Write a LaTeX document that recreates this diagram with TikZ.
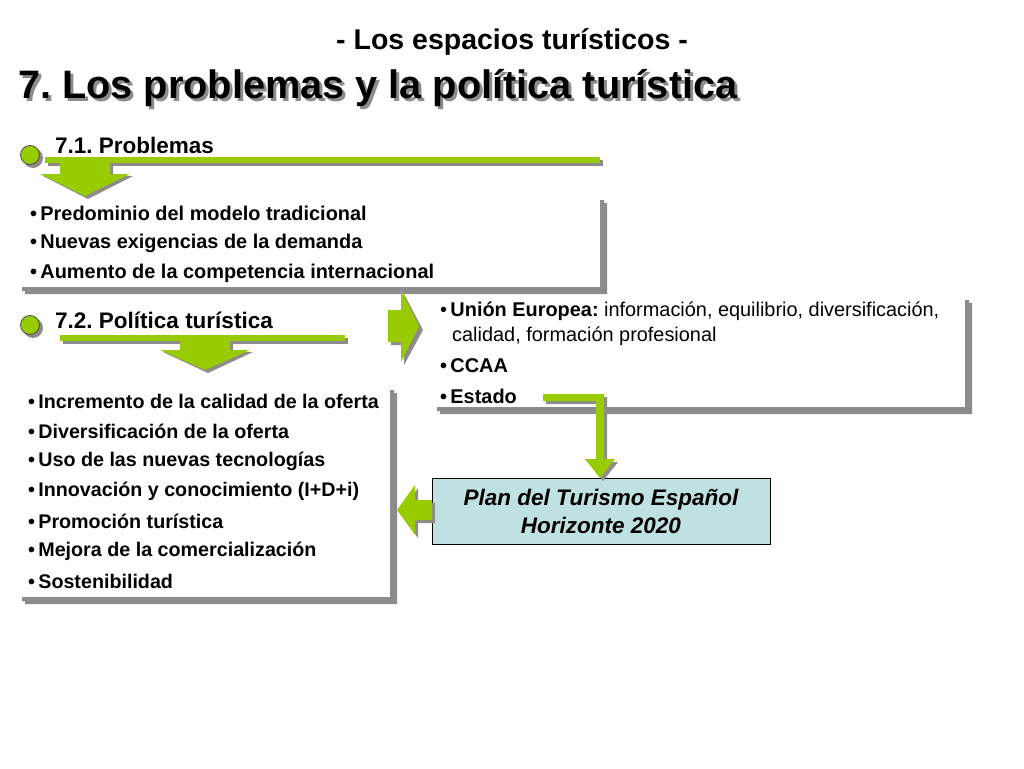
\documentclass[tikz,border=0pt]{standalone}
\usepackage{fontspec}
\setmainfont{Liberation Sans}
\frenchspacing
\definecolor{lime}{HTML}{99CC00}
\definecolor{shad}{HTML}{8C8C8C}
\definecolor{planbg}{HTML}{BFE1E1}
\begin{document}
\begin{tikzpicture}[x=1pt,y=-1pt,
  txt/.style={anchor=west,inner sep=0pt,font=\fontsize{19.9}{22}\selectfont\bfseries},
  rtxt/.style={anchor=west,inner sep=0pt,font=\fontsize{19.9}{22}\selectfont},
  head/.style={anchor=west,inner sep=0pt,font=\fontsize{22.5}{26}\selectfont\bfseries},
  gbar/.style={fill=lime},
  sbar/.style={fill=shad},
  dot/.style={circle,minimum size=19pt,inner sep=0pt,draw=black!70,line width=0.8pt}]
\useasboundingbox (0,0) rectangle (1024,768);
\fill[white] (0,0) rectangle (1024,768);
% titles
\node[inner sep=0pt,font=\fontsize{28.5}{32}\selectfont\bfseries] (sub) at (512,42) {- Los espacios turísticos -};
\node[anchor=west,inner sep=0pt,text=shad,font=\fontsize{39.7}{44}\selectfont\bfseries] (tshadow) at (21,91) {7. Los problemas y la política turística};
\node[anchor=west,inner sep=0pt,font=\fontsize{39.7}{44}\selectfont\bfseries] (title) at (18,88) {7. Los problemas y la política turística};
% section 1
\fill[shad] (33,158) circle (10);
\node[dot,fill=lime] (d1) at (30,155) {};
\node[head] (h1) at (55,145) {7.1. Problemas};
\fill[sbar] (48,160) rectangle (603,166);
\fill[gbar] (45,157) rectangle (600,163);
\fill[shad] (63,166) -- (113,166) -- (113,176) -- (133,176) -- (88,199) -- (43,176) -- (63,176) -- cycle;
\fill[lime] (60,163) -- (110,163) -- (110,174) -- (130,174) -- (85,196) -- (40,174) -- (60,174) -- cycle;
\fill[shad] (603,203) rectangle (607,294) (25,290) rectangle (607,294);
\fill[black!45] (600,200) rectangle (604,291) (22,287) rectangle (604,291);
\node[txt] (p1) at (30,213) {\textbullet\,Predominio del modelo tradicional};
\node[txt] (p2) at (30,243) {\textbullet\,Nuevas exigencias de la demanda};
\node[txt] (p3) at (30,273) {\textbullet\,Aumento de la competencia internacional};
% section 2
\fill[shad] (33,328) circle (10);
\node[dot,fill=lime] (d2) at (30,325) {};
\node[head] (h2) at (55,320) {7.2. Política turística};
\fill[sbar] (63,338) rectangle (348,344);
\fill[gbar] (60,335) rectangle (345,341);
\fill[shad] (183,344) -- (233,344) -- (233,352) -- (253,352) -- (208,373) -- (163,352) -- (183,352) -- cycle;
\fill[lime] (180,341) -- (230,341) -- (230,350) -- (250,350) -- (205,370) -- (160,350) -- (180,350) -- cycle;
\fill[shad] (393,393) rectangle (397,604) (25,600) rectangle (397,604);
\fill[black!45] (390,390) rectangle (394,601) (22,597) rectangle (394,601);
\foreach \t [count=\i] in {Incremento de la calidad de la oferta,Diversificación de la oferta,Uso de las nuevas tecnologías,Innovación y conocimiento (I+D+i),Promoción turística,Mejora de la comercialización,Sostenibilidad}
  \node[txt,font=\fontsize{19.7}{22}\selectfont\bfseries] (q\i) at (28,{371+30*\i}) {\textbullet\,\t};
% right arrow
\fill[shad] (391,313) -- (404,313) -- (404,294) -- (423,330) -- (404,365) -- (404,345) -- (391,345) -- cycle;
\fill[lime] (388,310) -- (401,310) -- (401,290) -- (419,326) -- (401,362) -- (401,342) -- (388,342) -- cycle;
% box 3
\fill[shad] (968,303) rectangle (972,414) (440,410) rectangle (972,414);
\fill[black!45] (965,300) rectangle (969,411) (437,407) rectangle (969,411);
\node[rtxt] (u1) at (440,311) {\textbullet\,\textbf{Unión Europea:} información, equilibrio, diversificación,};
\node[rtxt] (u1b) at (452,336) {calidad, formación profesional};
\node[txt] (u2) at (440,366) {\textbullet\,CCAA};
\node[txt] (u3) at (440,396) {\textbullet\,Estado};
% plan box
\node[draw=black,fill=planbg,line width=0.8pt,minimum width=338pt,minimum height=66pt,inner sep=0pt,align=center,
  font=\fontsize{22.5}{28}\selectfont\bfseries\itshape] (plan) at (601,511) {Plan del Turismo Español\\Horizonte 2020};
% elbow connector
\fill[shad] (546,397) -- (607,397) -- (607,462) -- (618,462) -- (603,481) -- (590,462) -- (600,462) -- (600,404) -- (546,404) -- cycle;
\fill[lime] (543,394) -- (604,394) -- (604,459) -- (615,459) -- (600,478) -- (585,459) -- (596,459) -- (596,401) -- (543,401) -- cycle;
% left arrow
\fill[shad] (435,503) -- (418,503) -- (418,488) -- (401,513) -- (418,538) -- (418,523) -- (435,523) -- cycle;
\fill[lime] (432,500) -- (415,500) -- (415,485) -- (397,510) -- (415,535) -- (415,520) -- (432,520) -- cycle;
\end{tikzpicture}
\end{document}
